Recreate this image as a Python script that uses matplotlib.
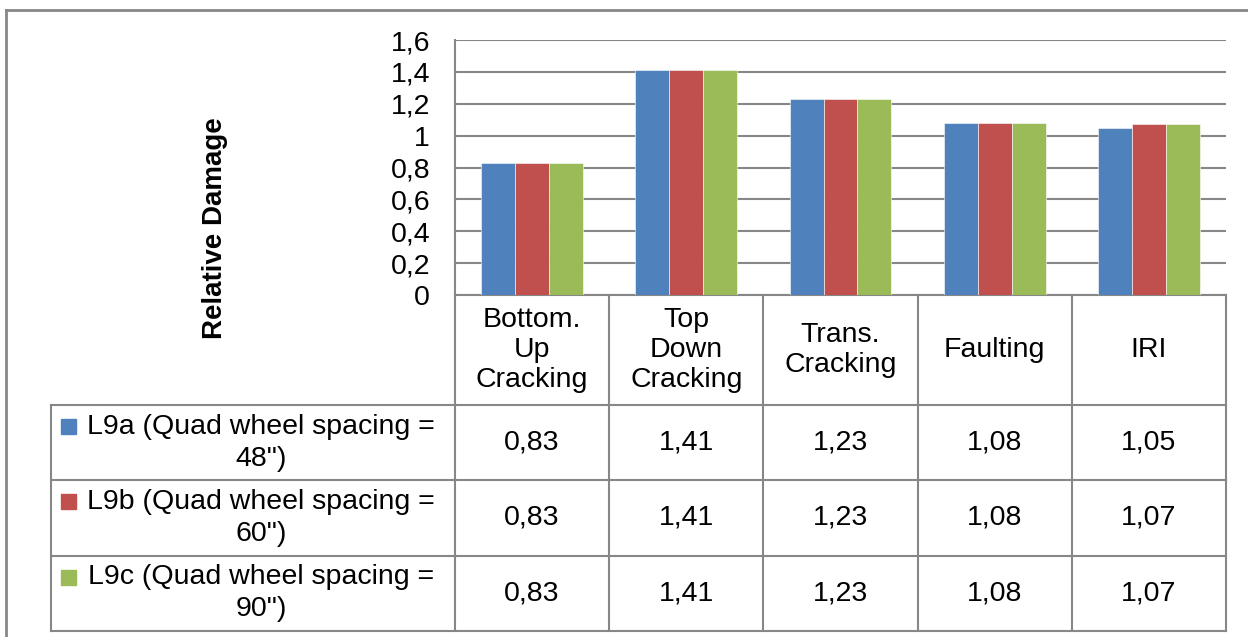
import numpy as np
import matplotlib
matplotlib.use("Agg")
from matplotlib import pyplot as plt
from matplotlib.patches import Rectangle

# data
categories = ["Bottom.\nUp\nCracking", "Top\nDown\nCracking", "Trans.\nCracking", "Faulting", "IRI"]
series_names = ['L9a (Quad wheel spacing =\n48")',
                'L9b (Quad wheel spacing =\n60")',
                'L9c (Quad wheel spacing =\n90")']
l9a = [0.83, 1.41, 1.23, 1.08, 1.05]
l9b = [0.83, 1.41, 1.23, 1.08, 1.07]
l9c = [0.83, 1.41, 1.23, 1.08, 1.07]
y_ticks = [0, 0.2, 0.4, 0.6, 0.8, 1.0, 1.2, 1.4, 1.6]

colors = ["#4F81BD", "#C0504D", "#9BBB59"]
grid_c = "#878787"
plt.rcParams["font.family"] = ["Liberation Sans", "DejaVu Sans"]
FS = 20.5

W, H = 1248, 637
fig = plt.figure(figsize=(W / 100, H / 100), dpi=100)

# plot area in pixels
px_l, px_r, px_t, px_b = 455, 1226, 40, 295
ax = fig.add_axes([px_l / W, 1 - px_b / H, (px_r - px_l) / W, (px_b - px_t) / H])

bw = 0.22
x = np.arange(len(categories))
for i, (vals, c) in enumerate(zip([l9a, l9b, l9c], colors)):
    ax.bar(x + (i - 1) * bw, vals, bw, color=c, edgecolor="white", linewidth=0.4, zorder=3)

ax.set_xlim(-0.5, len(categories) - 0.5)
ax.set_ylim(0, 1.6)
ax.set_yticks(y_ticks)
ax.set_yticklabels([f"{v:g}".replace(".", ",") for v in y_ticks], fontsize=FS)
ax.set_xticks([])
ax.tick_params(axis="y", length=0, pad=18)
ax.yaxis.grid(True, color=grid_c, linewidth=1.5)
ax.set_axisbelow(True)
for s in ["top", "right"]:
    ax.spines[s].set_visible(False)
for s in ["left", "bottom"]:
    ax.spines[s].set_color(grid_c)
    ax.spines[s].set_linewidth(1.5)

fig.text(215 / W, 1 - 228 / H, "Relative Damage", rotation=90, fontsize=20,
         fontweight="bold", ha="center", va="center")

# overlay for table and border, pixel coords
ov = fig.add_axes([0, 0, 1, 1], facecolor="none")
ov.set_xlim(0, W)
ov.set_ylim(H, 0)
ov.axis("off")

lw = 1.5
col_w = (px_r - px_l) / len(categories)
col_edges = [px_l + k * col_w for k in range(len(categories) + 1)]
left_x = 51
row_edges = [px_b, 405, 480, 556, 631]

for y in row_edges[1:]:
    ov.plot([left_x, px_r], [y, y], color=grid_c, lw=lw)
for xe in col_edges:
    ov.plot([xe, xe], [px_b, row_edges[-1]], color=grid_c, lw=lw)
ov.plot([left_x, left_x], [row_edges[1], row_edges[-1]], color=grid_c, lw=lw)

# header
for k, cat in enumerate(categories):
    cx = (col_edges[k] + col_edges[k + 1]) / 2
    cy = (row_edges[0] + row_edges[1]) / 2
    ov.text(cx, cy, cat, fontsize=FS, ha="center", va="center", linespacing=1.22)

# rows
for r, (name, vals, c) in enumerate(zip(series_names, [l9a, l9b, l9c], colors)):
    cy = (row_edges[r + 1] + row_edges[r + 2]) / 2
    ov.text(261, cy, name, fontsize=FS, ha="center", va="center",
            multialignment="center", linespacing=1.3)
    ov.add_patch(Rectangle((61, cy - 24), 15, 15, color=c))
    for k, v in enumerate(vals):
        cx = (col_edges[k] + col_edges[k + 1]) / 2
        ov.text(cx, cy, f"{v:.2f}".replace(".", ","), fontsize=FS, ha="center", va="center")

# outer chart border
ov.plot([6, 6], [10, H + 5], color=grid_c, lw=2, clip_on=False)
ov.plot([6, W + 5], [10, 10], color=grid_c, lw=2, clip_on=False)

fig.savefig("out.png", dpi=100)
